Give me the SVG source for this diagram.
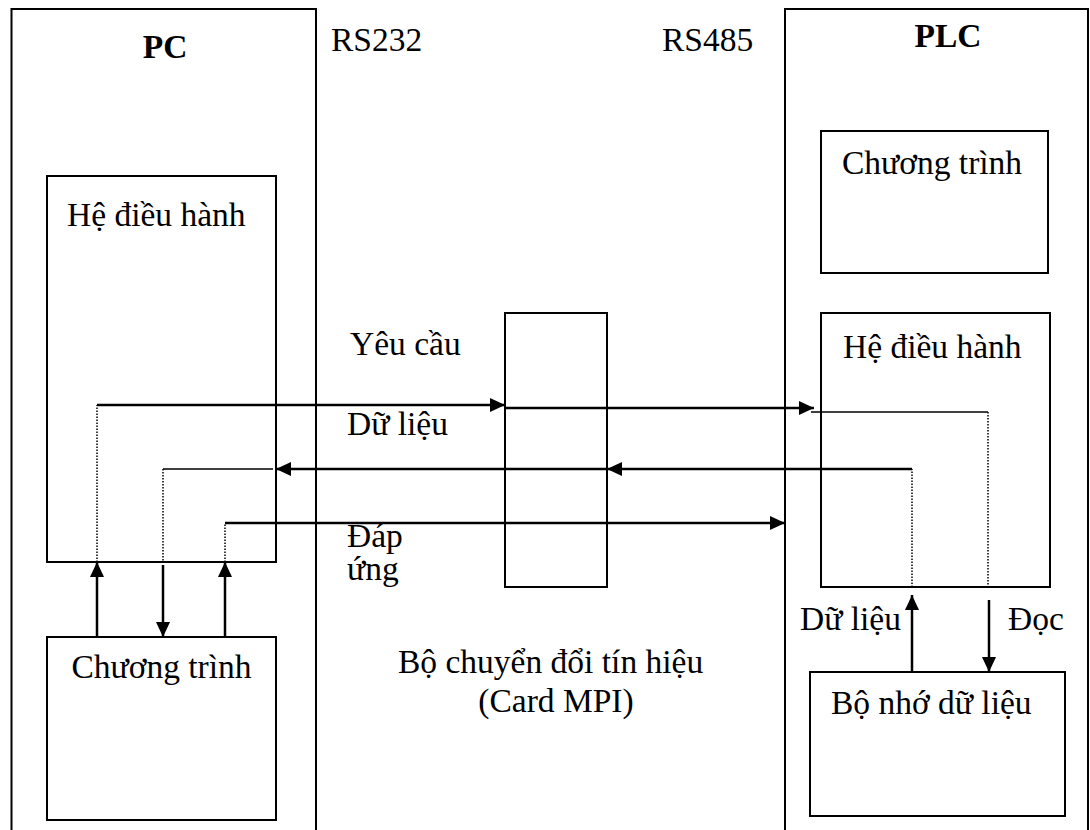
<svg xmlns="http://www.w3.org/2000/svg" width="1090" height="830" viewBox="0 0 1090 830">
<style>
.t{font-family:"Liberation Serif","Times New Roman",serif;font-size:33.5px;fill:#000}
.b{font-weight:bold}
.box{fill:none;stroke:#000;stroke-width:2}
.thick{fill:none;stroke:#000;stroke-width:2.5}
.thin{fill:none;stroke:#000;stroke-width:1.5}
.dot{fill:none;stroke:#000;stroke-width:1.5;stroke-dasharray:1.5 1.5}
</style>
<defs>
<marker id="ah" markerUnits="userSpaceOnUse" markerWidth="15" markerHeight="14" refX="15" refY="7" orient="auto">
<path d="M0,0 L15,7 L0,14 Z" fill="#000"/>
</marker>
<clipPath id="clipDap"><rect x="330" y="480" width="160" height="109"/></clipPath>
</defs>
<rect width="1090" height="830" fill="#fff"/>
<g id="pc">
<path class="box" d="M11.5,840 V9 H316 V840"/>
<text class="t b" x="165" y="58" text-anchor="middle">PC</text>
</g>
<g id="pc-os">
<rect class="box" x="47" y="176" width="229" height="386"/>
<text class="t" x="67" y="226">Hệ điều hành</text>
</g>
<g id="pc-prog">
<rect class="box" x="47" y="637" width="229" height="183"/>
<text class="t" x="161.5" y="678" text-anchor="middle">Chương trình</text>
</g>
<g id="labels">
<text class="t" x="331" y="51">RS232</text>
<text class="t" x="662" y="51">RS485</text>
<text class="t" x="350" y="355">Yêu cầu</text>
<text class="t" x="347" y="435">Dữ liệu</text>
<g clip-path="url(#clipDap)">
<text class="t" x="347" y="547">Đáp</text>
<text class="t" x="347" y="580">ứng</text>
</g>
</g>
<g id="mpi">
<rect class="box" x="505" y="313" width="102" height="274"/>
<text class="t" x="398" y="673">Bộ chuyển đổi tín hiệu</text>
<text class="t" x="556" y="712" text-anchor="middle">(Card MPI)</text>
</g>
<g id="plc">
<path class="box" d="M785,840 V9 H1088 V840"/>
<text class="t b" x="948" y="47" text-anchor="middle">PLC</text>
</g>
<g id="plc-prog">
<rect class="box" x="821" y="131" width="227" height="142"/>
<text class="t" x="842" y="174">Chương trình</text>
</g>
<g id="plc-os">
<rect class="box" x="821" y="313" width="229" height="274"/>
<text class="t" x="843" y="358">Hệ điều hành</text>
</g>
<g id="plc-mem">
<rect class="box" x="810" y="672" width="255" height="144"/>
<text class="t" x="831" y="714">Bộ nhớ dữ liệu</text>
<text class="t" x="800" y="630">Dữ liệu</text>
<text class="t" x="1008" y="630">Đọc</text>
</g>
<g id="connectors">
<!-- request -->
<path class="dot" d="M97,562 V405"/>
<path class="thick" d="M97,405 H505" marker-end="url(#ah)"/>
<path class="thick" d="M505,408 H814" marker-end="url(#ah)"/>
<path class="thin" d="M811,412 H988"/>
<path class="dot" d="M988,412 V587"/>
<!-- data back -->
<path class="dot" d="M912,587 V469"/>
<path class="thick" d="M912,469 H607" marker-end="url(#ah)"/>
<path class="thick" d="M607,469 H276" marker-end="url(#ah)"/>
<path class="thin" d="M273,469 H163"/>
<path class="dot" d="M163,469 V562"/>
<!-- response -->
<path class="dot" d="M225,562 V523"/>
<path class="thick" d="M225,523 H785" marker-end="url(#ah)"/>
<!-- PC vertical -->
<path class="thick" d="M97,637 V562" marker-end="url(#ah)"/>
<path class="thick" d="M163,565 V637" marker-end="url(#ah)"/>
<path class="thick" d="M225,637 V562" marker-end="url(#ah)"/>
<!-- PLC vertical -->
<path class="thick" d="M912,672 V595" marker-end="url(#ah)"/>
<path class="thick" d="M989,600 V672" marker-end="url(#ah)"/>
</g>
</svg>
